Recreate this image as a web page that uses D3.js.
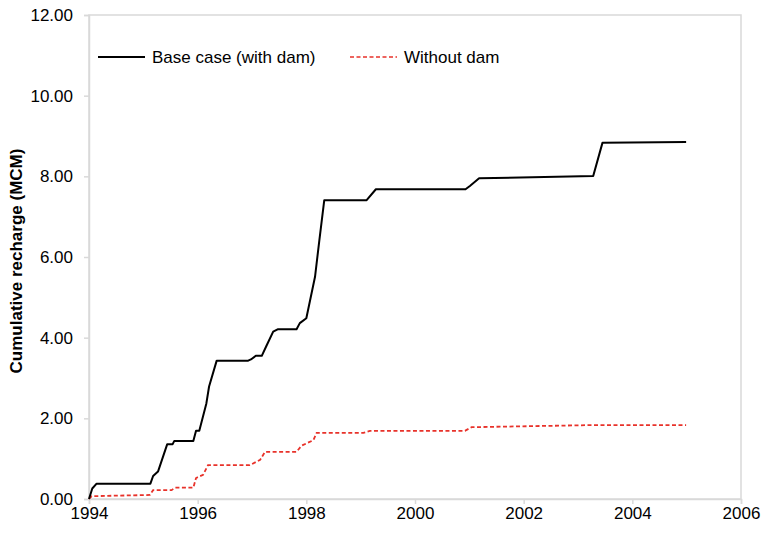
<!DOCTYPE html>
<html>
<head>
<meta charset="utf-8">
<script src="https://cdn.jsdelivr.net/npm/d3@7"></script>
<style>
body { margin: 0; background: #fff; }
text { font-family: Arial, "Liberation Sans", sans-serif; fill: #000; }
</style>
</head>
<body>
<div id="chart"></div>
<script>
var w = 764;
var h = 533;

// base case (with dam)
var baseT = [1994.0, 1994.06, 1994.14, 1995.13, 1995.18, 1995.27, 1995.44, 1995.54, 1995.57, 1995.92,
	1995.97, 1996.03, 1996.16, 1996.21, 1996.35, 1996.93, 1996.98, 1997.07, 1997.18, 1997.26,
	1997.39, 1997.48, 1997.82, 1997.88, 1998.0, 1998.16, 1998.24, 1998.33, 1999.11, 1999.28,
	2000.93, 2001.01, 2001.18, 2003.28, 2003.45, 2004.99];
var baseV = [0, 0.26, 0.38, 0.38, 0.57, 0.68, 1.36, 1.36, 1.44, 1.44,
	1.69, 1.69, 2.37, 2.79, 3.43, 3.43, 3.46, 3.55, 3.55, 3.78,
	4.15, 4.21, 4.21, 4.36, 4.48, 5.51, 6.42, 7.41, 7.41, 7.68,
	7.68, 7.76, 7.95, 8.01, 8.83, 8.85];

// without dam
var noDamT = [1994.0, 1994.05, 1995.12, 1995.18, 1995.52, 1995.58, 1995.92, 1995.97, 1996.1, 1996.19,
	1996.96, 1997.15, 1997.24, 1997.82, 1997.91, 1998.13, 1998.19, 1999.05, 1999.17, 2000.92,
	2001.04, 2003.16, 2004.99];
var noDamV = [0, 0.07, 0.1, 0.22, 0.22, 0.28, 0.28, 0.52, 0.6, 0.84,
	0.84, 0.97, 1.17, 1.17, 1.32, 1.46, 1.64, 1.64, 1.69, 1.69,
	1.78, 1.83, 1.83];

var xTicks = [1994, 1996, 1998, 2000, 2002, 2004, 2006];
var yTicks = [0, 2, 4, 6, 8, 10, 12];
var seriesNames = ["Base case (with dam)", "Without dam"];

var margin = {left: 89, top: 15, right: 23, bottom: 34};
var pw = w - margin.left - margin.right;
var ph = h - margin.top - margin.bottom;

var svg = d3.select("#chart")
	.append("svg")
	.attr("width", w)
	.attr("height", h);

var g = svg.append("g")
	.attr("transform", "translate(" + margin.left + "," + margin.top + ")");

var x = d3.scaleLinear().domain([1994, 2006]).range([0, pw]);
var y = d3.scaleLinear().domain([0, 12]).range([ph, 0]);

// plot frame
g.append("rect")
	.attr("width", pw)
	.attr("height", ph)
	.attr("fill", "none")
	.attr("stroke", "#d9d9d9")
	.attr("stroke-width", 1.5);

var xAxis = g.append("g")
	.attr("transform", "translate(0," + ph + ")")
	.call(d3.axisBottom(x).tickValues(xTicks).tickFormat(d3.format("d")).tickSize(5).tickPadding(3));

var yAxis = g.append("g")
	.call(d3.axisLeft(y).tickValues(yTicks).tickFormat(d3.format(".2f")).tickSize(5).tickPadding(11));

[xAxis, yAxis].forEach(function(a) {
	a.select(".domain").attr("stroke", "#d9d9d9").attr("stroke-width", 1.5);
	a.selectAll(".tick line").attr("stroke", "#d9d9d9").attr("stroke-width", 1.5);
	a.selectAll(".tick text").style("font-size", "17px").attr("fill", "#000");
});

svg.append("text")
	.attr("transform", "translate(22," + 261 + ") rotate(-90)")
	.attr("text-anchor", "middle")
	.style("font-size", "17px")
	.style("font-weight", "bold")
	.text("Cumulative recharge (MCM)");

var line = d3.line()
	.x(function(d) { return x(d[0]); })
	.y(function(d) { return y(d[1]); });

g.append("path")
	.datum(d3.zip(noDamT, noDamV))
	.attr("d", line)
	.attr("fill", "none")
	.attr("stroke", "#e8322a")
	.attr("stroke-width", 1.8)
	.attr("stroke-dasharray", "4,2.5");

g.append("path")
	.datum(d3.zip(baseT, baseV))
	.attr("d", line)
	.attr("fill", "none")
	.attr("stroke", "#000")
	.attr("stroke-width", 2)
	.attr("stroke-linejoin", "round");

// legend
var lg = svg.append("g");
var legItems = [
	{x: 98, color: "#000", dash: null, sw: 2},
	{x: 350, color: "#e8322a", dash: "4,2.5", sw: 1.5}
];
legItems.forEach(function(d, i) {
	lg.append("line")
		.attr("x1", d.x).attr("x2", d.x + 47)
		.attr("y1", 57).attr("y2", 57)
		.attr("stroke", d.color)
		.attr("stroke-width", d.sw)
		.attr("stroke-dasharray", d.dash);
	lg.append("text")
		.attr("x", d.x + 54)
		.attr("y", 63)
		.style("font-size", "17px")
		.text(seriesNames[i]);
});
</script>
</body>
</html>
